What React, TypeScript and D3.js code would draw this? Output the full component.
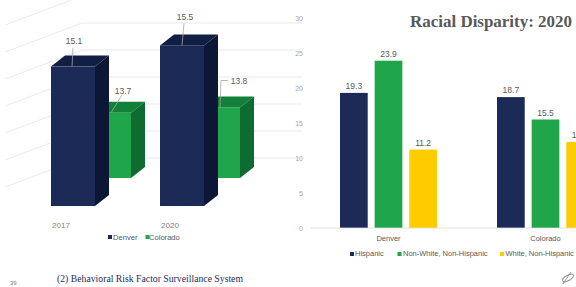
import React from "react";
import * as d3 from "d3";

// left chart: 3D columns, percent by year
const years = ["2017", "2020"];
const denverRate = [15.1, 15.5];
const coloradoRate = [13.7, 13.8];

// right chart: racial disparity 2020
const regions = ["Denver", "Colorado"];
const groups = ["Hispanic", "Non-White, Non-Hispanic", "White, Non-Hispanic"];
const hispanic = [19.3, 18.7];
const nonWhite = [23.9, 15.5];
const whiteNH = [11.2, 12.3];
const axisTicks = [0, 5, 10, 15, 20, 25, 30];

const W = 576, H = 287;
const navy = "#1b2a56";
const green = "#1fa64a";
const yellow = "#ffcc00";
const gray = "#595959";
const grid = "#e3e3e3";

// 3d depth of one bar
const DX = 14, DY = 11;
// shift of the back row
const ROW_DX = 36, ROW_DY = 28;
const frontBase = 206;

const xYear = d3.scalePoint<string>().domain(years).range([51, 160]);
const barW = 44;
const hScale = d3.scaleLinear().domain([12.47, 16]).range([0, 187.1]);
const wallY = d3.scaleLinear().domain([13, 16]).range([158, -4]);

const rows = [
  { name: "Colorado", values: coloradoRate, front: green, top: "#128038", side: "#0e6c31", back: 1,
    label: [{ dx: 36, dy: -19, lead: [[24, 0], [35, -18]] }, { dx: 43, dy: -23.5, lead: [[24, 0], [25, -27], [32, -27]] }] },
  { name: "Denver", values: denverRate, front: navy, top: "#121f45", side: "#0c1736", back: 0,
    label: [{ dx: 23, dy: -22.5, lead: [[21, 0], [22, -19]] }, { dx: 25, dy: -25.5, lead: [[22, 0], [24, -22]] }] },
];

const xReg = d3.scaleBand<string>().domain(regions).range([310, 624]);
const xGrp = d3.scaleBand<string>().domain(groups).range([30, 127]).paddingInner(0.2);
const yR = d3.scaleLinear().domain([0, 30]).range([228, 18]);
const series = [
  { name: groups[0], values: hispanic, color: navy },
  { name: groups[1], values: nonWhite, color: green },
  { name: groups[2], values: whiteNH, color: yellow },
];

const sans = "'Liberation Sans', Arial, sans-serif";
const serif = "'Liberation Serif', 'Times New Roman', serif";

function Bar3D({ x, base, h, c }: any) {
  const top = base - h;
  return (
    <g>
      <rect x={x} y={top} width={barW} height={h} fill={c.front} />
      <polygon points={`${x},${top} ${x + DX},${top - DY} ${x + barW + DX},${top - DY} ${x + barW},${top}`} fill={c.top} />
      <polygon points={`${x + barW},${top} ${x + barW + DX},${top - DY} ${x + barW + DX},${base - DY} ${x + barW},${base}`} fill={c.side} />
    </g>
  );
}

export default function App() {
  const wallTicks = wallY.ticks(8).filter(v => v >= 12.5 && v <= 16);
  return (
    <div style={{ position: "absolute", left: 0, top: 0 }}>
      <svg width={W} height={H} style={{ display: "block", background: "#fff" }}>
        {/* 3d walls */}
        <g stroke={grid} strokeWidth={0.8}>
          {wallTicks.map(v => (
            <g key={v}>
              {v >= 13 && <line x1={82} x2={302} y1={wallY(v)} y2={wallY(v)} />}
              <line x1={82} x2={5} y1={wallY(v)} y2={wallY(v) + 29} />
            </g>
          ))}
        </g>

        {/* 3d bars, back row first */}
        {rows.map(r => (
          <g key={r.name}>
            {r.values.map((v, i) => {
              const x = (xYear(years[i]) as number) + r.back * ROW_DX;
              const base = frontBase - r.back * ROW_DY;
              return <Bar3D key={i} x={x} base={base} h={hScale(v)} c={r} />;
            })}
          </g>
        ))}
        {rows.map(r => (
          <g key={r.name + "-lab"}>
            {r.values.map((v, i) => {
              const x = (xYear(years[i]) as number) + r.back * ROW_DX;
              const top = frontBase - r.back * ROW_DY - hScale(v);
              const L = r.label[i];
              return (
                <g key={i}>
                  <polyline points={L.lead.map(p => `${x + p[0]},${top + p[1]}`).join(" ")} fill="none" stroke="#a6a6a6" strokeWidth={0.8} />
                  <text x={x + L.dx} y={top + L.dy} textAnchor="middle" fontFamily={sans} fontSize={8.5} fill={gray}>{v.toFixed(1)}</text>
                </g>
              );
            })}
          </g>
        ))}
        {years.map(y => (
          <text key={y} x={(xYear(y) as number) + 10} y={228} textAnchor="middle" fontFamily={sans} fontSize={8} fill="#7f7f7f">{y}</text>
        ))}
        <g fontFamily={sans} fontSize={7.6} fill={gray}>
          <rect x={108} y={235} width={4} height={4} fill={navy} />
          <text x={113} y={239.5}>Denver</text>
          <rect x={145.5} y={235} width={4} height={4} fill={green} />
          <text x={149} y={239.5}>Colorado</text>
        </g>

        {/* right chart */}
        <text x={410} y={27} fontFamily={serif} fontWeight="bold" fontSize={17} fill={gray} textLength={162} lengthAdjust="spacingAndGlyphs">Racial Disparity: 2020</text>
        <g fontFamily={sans} fontSize={7} fill="#a6a6a6" textAnchor="end">
          {axisTicks.map(t => (
            <text key={t} x={303} y={yR(t) + 2.8}>{t}</text>
          ))}
        </g>
        {series.map(s => (
          <g key={s.name}>
            {s.values.map((v, i) => {
              const x = (xReg(regions[i]) as number) + (xGrp(s.name) as number);
              return (
                <g key={i}>
                  <rect x={x} y={yR(v)} width={xGrp.bandwidth()} height={yR(0) - yR(v)} fill={s.color} />
                  <text x={x + xGrp.bandwidth() / 2} y={yR(v) - 4} textAnchor="middle" fontFamily={sans} fontSize={8.5} fill={gray}>{v.toFixed(1)}</text>
                </g>
              );
            })}
          </g>
        ))}
        <line x1={310} x2={W} y1={yR(0)} y2={yR(0)} stroke="#d9d9d9" strokeWidth={0.8} />
        {regions.map(r => (
          <text key={r} x={(xReg(r) as number) + xReg.bandwidth() / 2} y={241} textAnchor="middle" fontFamily={sans} fontSize={7.5} fill={gray}>{r}</text>
        ))}
        <g fontFamily={sans} fontSize={7.5} fill={gray}>
          <rect x={350} y={252} width={4} height={4} fill={navy} />
          <text x={355} y={256}>{groups[0]}</text>
          <rect x={397.5} y={252} width={4} height={4} fill={green} />
          <text x={403} y={256}>{groups[1]}</text>
          <rect x={500} y={252} width={4} height={4} fill={yellow} />
          <text x={505.5} y={256}>{groups[2]}</text>
        </g>

        {/* footer */}
        <text x={10} y={285} fontFamily={sans} fontSize={6} fill="#7f7f7f">39</text>
        <text x={57} y={281.5} fontFamily={serif} fontSize={10.5} fill="#1f2b5b" textLength={186} lengthAdjust="spacingAndGlyphs">(2) Behavioral Risk Factor Surveillance System</text>
        <g fill="none" stroke="#8c8c8c" strokeWidth={0.9}>
          <ellipse cx={568} cy={278} rx={6} ry={2.6} transform="rotate(-30 568 278)" />
          <path d="M563,284 Q566,279 571,272" />
        </g>
      </svg>
    </div>
  );
}
